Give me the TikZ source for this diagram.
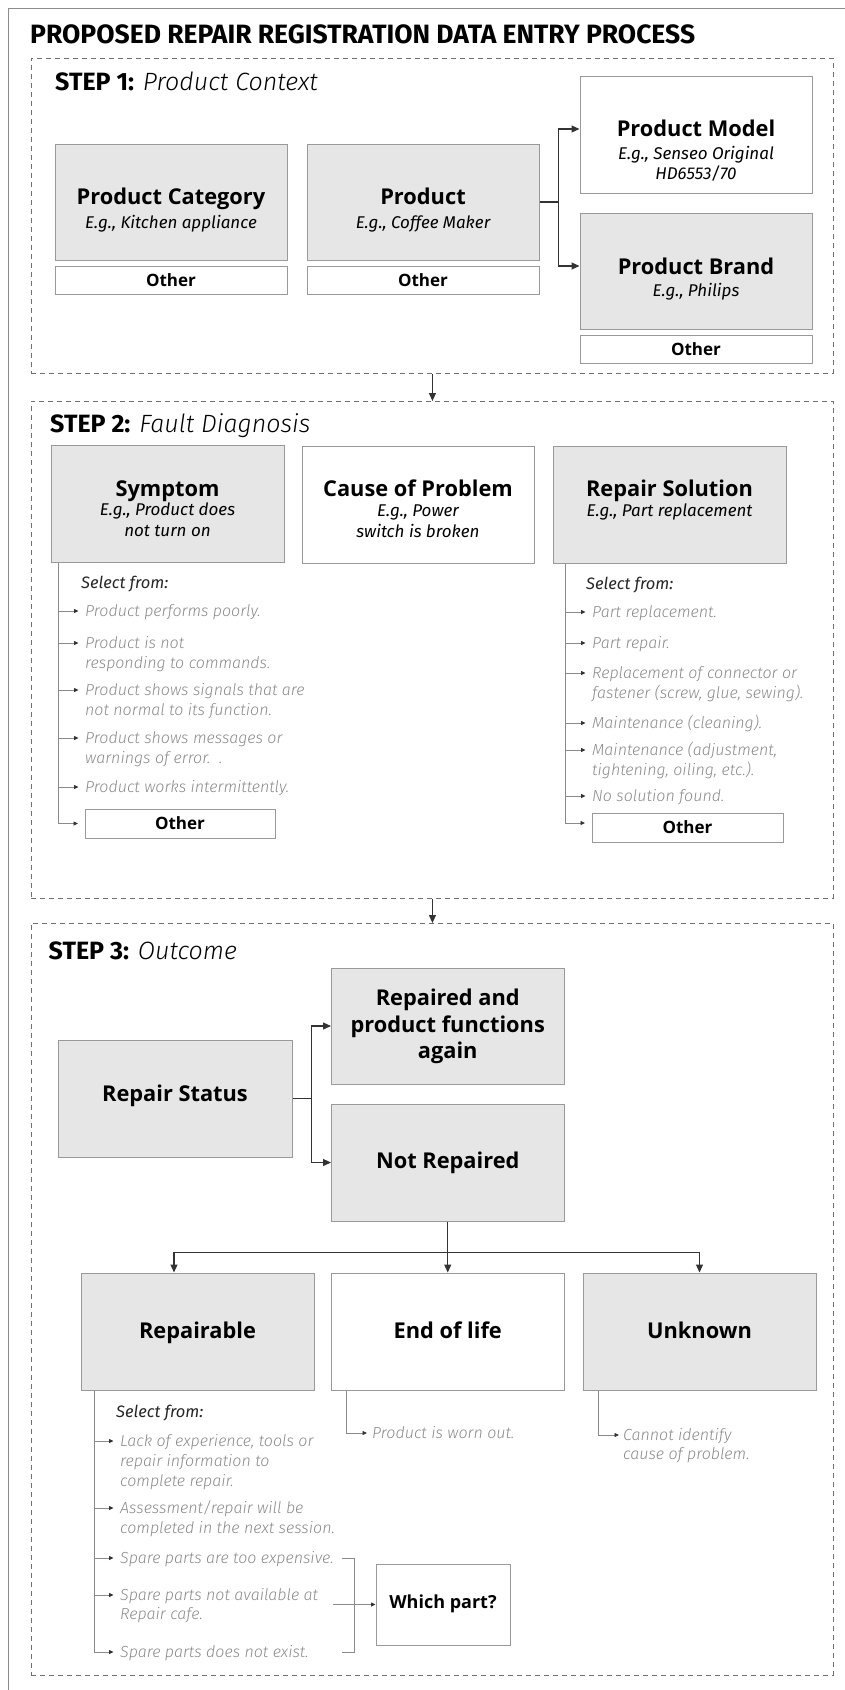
\documentclass[tikz,border=0pt]{standalone}
\usepackage{fontspec}
\setmainfont{Open Sans}
\newfontfamily\fira{Fira Sans}
\newfontfamily\firalt{Fira Sans}[UprightFont={* Light},ItalicFont={* Light Italic}]
\usetikzlibrary{arrows.meta,calc}
\definecolor{boxfill}{HTML}{E6E6E6}
\definecolor{boxline}{HTML}{999999}
\definecolor{dashline}{HTML}{707070}
\definecolor{conn}{HTML}{333333}
\definecolor{itemtext}{HTML}{8A8A8A}
\definecolor{spinecol}{HTML}{8A8A8A}
\definecolor{framecol}{HTML}{8C8C8C}
\begin{document}
\begin{tikzpicture}[x=1pt,y=-1pt,
  stepframe/.style={draw=dashline, line width=0.9pt, dash pattern=on 5pt off 4pt, inner sep=0, anchor=north west},
  gbox/.style={draw=boxline, fill=boxfill, line width=1pt, inner sep=0, minimum width=232, minimum height=117},
  wbox/.style={gbox, fill=white},
  obox/.style={draw=boxline, fill=white, line width=1pt, inner sep=0, minimum width=232, minimum height=28, font=\bfseries\fontsize{17}{20}\selectfont, text height=12, text depth=0},
  ttl/.style={font=\bfseries\fontsize{21.8}{24}\selectfont, inner sep=0, text height=15.5, text depth=0},
  eg/.style={font=\fira\itshape\fontsize{17}{20}\selectfont, inner sep=0, text height=12, text depth=0},
  itm/.style={font=\firalt\itshape\fontsize{16}{18}\selectfont, text=itemtext, inner sep=0, anchor=west, text height=10.5, text depth=0},
  sel/.style={font=\fira\itshape\fontsize{16.5}{18}\selectfont, text=black!85, inner sep=0, anchor=west, text height=10.5, text depth=0},
  steplbl/.style={font=\fira\fontsize{25}{28}\selectfont, inner sep=0, anchor=west, text height=17.5, text depth=0},
  cline/.style={draw=conn, line width=1.1pt},
  carrow/.style={cline, -{Triangle[length=8pt,width=7pt]}},
  spine/.style={draw=spinecol, line width=0.8pt},
  larrow/.style={spine, -{Triangle[length=4.5pt,width=4pt,color=conn]}, shorten >=6.5pt}
]
\useasboundingbox (0,0) rectangle (845,1690);
\draw[draw=framecol, line width=1.6pt] (8.5,1690) -- (8.5,8.5) -- (845,8.5);

% title
\node[anchor=west, inner sep=0, font=\fira\bfseries\fontsize{26.5}{30}\selectfont, text height=18, text depth=0] (title) at (30,34) {PROPOSED REPAIR REGISTRATION DATA ENTRY PROCESS};

% frames
\node[stepframe, minimum width=802, minimum height=315] (s1) at (31,58) {};
\node[stepframe, minimum width=802, minimum height=497] (s2) at (31,401) {};
\node[stepframe, minimum width=802, minimum height=752] (s3) at (31,923) {};
\draw[carrow] (s1.south) -- (s2.north);
\draw[carrow] (s2.south) -- (s3.north);

\node[steplbl] (s1l) at (55,82) {{\bfseries STEP 1:} {\firalt\itshape Product Context}};
\node[steplbl] (s2l) at (50,424) {{\bfseries STEP 2:} {\firalt\itshape Fault Diagnosis}};
\node[steplbl] (s3l) at (48.5,951) {{\bfseries STEP 3:} {\firalt\itshape Outcome}};

% ---------- STEP 1
\node[gbox, minimum height=116] (cat) at (171,202) {};
\node[ttl] (catT) at (171,197) {Product Category};
\node[eg] (catE) at (171,222) {E.g., Kitchen appliance};
\node[obox] (catO) at (171,280) {Other};

\node[gbox, minimum height=116] (prod) at (423,202) {};
\node[ttl] (prodT) at (423,197) {Product};
\node[eg] (prodE) at (423,222) {E.g., Coffee Maker};
\node[obox] (prodO) at (423,280) {Other};

\node[wbox] (model) at (696,134.5) {};
\node[ttl] (modelT) at (696,129) {Product Model};
\node[eg] (modelE) at (696,153) {E.g., Senseo Original};
\node[eg] (modelE2) at (696,173) {HD6553/70};

\node[gbox, minimum height=116] (brand) at (696,271) {};
\node[ttl] (brandT) at (696,267) {Product Brand};
\node[eg] (brandE) at (696,290) {E.g., Philips};
\node[obox] (brandO) at (696,349) {Other};

\coordinate (j1) at ($(prod.east)+(19,0)$);
\draw[cline] (prod.east) -- (j1);
\draw[carrow] (j1) |- ([yshift=5.5pt]model.west);
\draw[carrow] (j1) |- ([yshift=5pt]brand.west);

% ---------- STEP 2
\node[gbox, minimum width=233] (sym) at (167.5,503.5) {};
\node[ttl] (symT) at (167.5,489) {Symptom};
\node[eg] (symE) at (167.5,509) {E.g., Product does};
\node[eg] (symE2) at (167.5,530) {not turn on};

\node[wbox] (cause) at (418,504.5) {};
\node[ttl] (causeT) at (418,489) {Cause of Problem};
\node[eg] (causeE) at (418,510) {E.g., Power};
\node[eg] (causeE2) at (418,531) {switch is broken};

\node[gbox, minimum width=233] (rsol) at (669.5,504.5) {};
\node[ttl] (rsolT) at (669.5,489) {Repair Solution};
\node[eg] (rsolE) at (669.5,510) {E.g., Part replacement};

% symptom list
\coordinate (syS) at (58,823.5);
\draw[spine] (sym.south -| syS) -- (syS);
\node[sel] (syH) at (81,583) {Select from:};
\node[itm] (sy1) at (85,611) {Product performs poorly.};
\node[itm] (sy2) at (85,643) {Product is not};
\node[itm] (sy2b) at (85,663) {responding to commands.};
\node[itm] (sy3) at (85,690) {Product shows signals that are};
\node[itm] (sy3b) at (85,710) {not normal to its function.};
\node[itm] (sy4) at (85,738) {Product shows messages or};
\node[itm] (sy4b) at (85,758) {warnings of error.\ \ .};
\node[itm] (sy5) at (85,787) {Product works intermittently.};
\node[obox, minimum width=190, minimum height=29] (syO) at (180,823.5) {Other};
\foreach \n in {sy1,sy2,sy3,sy4,sy5,syO} \draw[larrow] (syS |- \n.west) -- (\n.west);

% repair solution list
\coordinate (rsS) at (565,823);
\draw[spine] (rsol.south -| rsS) -- (rsS);
\node[sel] (rsH) at (586,584) {Select from:};
\node[itm] (rs1) at (592,612) {Part replacement.};
\node[itm] (rs2) at (592,643) {Part repair.};
\node[itm] (rs3) at (592,673) {Replacement of connector or};
\node[itm] (rs3b) at (592,693) {fastener (screw, glue, sewing).};
\node[itm] (rs4) at (592,723) {Maintenance (cleaning).};
\node[itm] (rs5) at (592,750) {Maintenance (adjustment,};
\node[itm] (rs5b) at (592,770) {tightening, oiling, etc.).};
\node[itm] (rs6) at (592,796) {No solution found.};
\node[obox, minimum width=191, minimum height=29] (rsO) at (687.5,827.5) {Other};
\foreach \n in {rs1,rs2,rs3,rs4,rs5,rs6} \draw[larrow] (rsS |- \n.west) -- (\n.west);
\draw[larrow] (rsS) -- (rsO.west |- rsS);

% ---------- STEP 3
\node[gbox, minimum width=234] (rstat) at (175,1098.5) {};
\node[ttl] (rstatT) at (175,1094) {Repair Status};

\node[gbox, minimum width=232.5, minimum height=116] (rep) at (447.75,1026) {};
\node[ttl] (repT1) at (447.75,998) {Repaired and};
\node[ttl] (repT2) at (447.75,1025) {product functions};
\node[ttl] (repT3) at (447.75,1051) {again};

\node[gbox, minimum width=232.5] (notr) at (447.75,1162.5) {};
\node[ttl] (notrT) at (447.75,1161) {Not Repaired};

\coordinate (j2) at ($(rstat.east)+(19,0)$);
\draw[cline] (rstat.east) -- (j2);
\draw[carrow] (j2) |- (rep.west);
\draw[carrow] (j2) |- (notr.west);

\node[gbox, minimum width=233] (repa) at (197.5,1331.5) {};
\node[ttl] (repaT) at (197.5,1331) {Repairable};
\node[wbox, minimum width=232.5] (eol) at (447.75,1331.5) {};
\node[ttl] (eolT) at (447.75,1331) {End of life};
\node[gbox, minimum width=233] (unk) at (699.5,1331.5) {};
\node[ttl] (unkT) at (699.5,1331) {Unknown};

\coordinate (j3) at ($(notr.south)+(0,31)$);
\draw[carrow] (notr.south) -- (eol.north);
\draw[carrow] (j3) -| ([xshift=-23.5pt]repa.north);
\draw[carrow] (j3) -| (unk.north);

% repairable list
\coordinate (raS) at (94,1652);
\draw[spine] (repa.south -| raS) -- (raS);
\node[sel] (raH) at (116,1412) {Select from:};
\node[itm] (ra1) at (120,1441) {Lack of experience, tools or};
\node[itm] (ra1b) at (120,1461) {repair information to};
\node[itm] (ra1c) at (120,1481) {complete repair.};
\node[itm] (ra2) at (120,1508) {Assessment/repair will be};
\node[itm] (ra2b) at (120,1528) {completed in the next session.};
\node[itm] (ra3) at (120,1558) {Spare parts are too expensive.};
\node[itm] (ra4) at (120,1595) {Spare parts not available at};
\node[itm] (ra4b) at (120,1614) {Repair cafe.};
\node[itm] (ra5) at (120,1652) {Spare parts does not exist.};
\foreach \n in {ra1,ra2,ra3,ra4,ra5} \draw[larrow] (raS |- \n.west) -- (\n.west);

\node[wbox, minimum width=134, minimum height=81] (which) at (443,1604.5) {};
\node[ttl, font=\bfseries\fontsize{18}{21}\selectfont, text height=13] (whichT) at (443,1602) {Which part?};
\coordinate (bt) at (342,1558);
\coordinate (bb) at (342,1652);
\draw[spine] (bt) -- ++(12,0) |- (bb);
\coordinate (wa) at (333,1604.5);
\draw[larrow, shorten >=0pt] (wa) -- (which.west);

% end of life
\coordinate (eS) at (346,1433);
\draw[spine] (eol.south -| eS) -- (eS);
\node[itm] (eo1) at (372,1433) {Product is worn out.};
\draw[larrow, shorten >=5pt] (eS) -- (eo1.west);

% unknown
\coordinate (uS) at (598,1435);
\draw[spine] (unk.south -| uS) -- (uS);
\node[itm] (un1) at (623,1435) {Cannot identify};
\node[itm] (un1b) at (623,1454) {cause of problem.};
\draw[larrow, shorten >=4pt] (uS) -- (un1.west);
\end{tikzpicture}
\end{document}
